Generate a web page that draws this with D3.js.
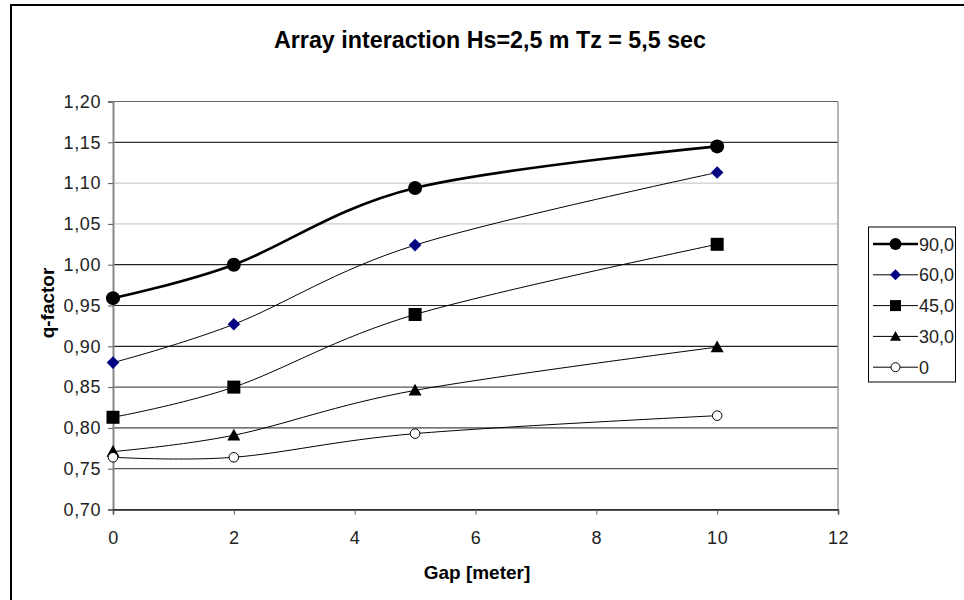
<!DOCTYPE html>
<html><head><meta charset="utf-8">
<script src="https://cdn.jsdelivr.net/npm/d3@7"></script>
<style>body{margin:0;background:#fff}svg{display:block;font-family:"Liberation Sans",Arial,sans-serif}</style>
</head><body><svg id="c" width="964" height="600"></svg>
<script>
const gaps = [0, 2, 5, 10];
const seriesNames = ["90,0", "60,0", "45,0", "30,0", "0"];
const s90 = [0.959, 1.000, 1.094, 1.145];
const s60 = [0.880, 0.927, 1.024, 1.113];
const s45 = [0.813, 0.850, 0.939, 1.025];
const s30 = [0.771, 0.791, 0.846, 0.899];
const s0  = [0.764, 0.764, 0.793, 0.815];
const yTicks = [0.70, 0.75, 0.80, 0.85, 0.90, 0.95, 1.00, 1.05, 1.10, 1.15, 1.20];
const xTicks = [0, 2, 4, 6, 8, 10, 12];
const gridColors = ["#555", "#555", "#444", "#555", "#222", "#222", "#222", "#ccc", "#ccc", "#333", "#666"];

const series = [
  {name: seriesNames[0], vals: s90, marker: "circle", fill: "#000", width: 2.6, size: 7},
  {name: seriesNames[1], vals: s60, marker: "diamond", fill: "#000080", width: 1, size: 6.3},
  {name: seriesNames[2], vals: s45, marker: "square", fill: "#000", width: 1, size: 6.5},
  {name: seriesNames[3], vals: s30, marker: "triangle", fill: "#000", width: 1, size: 6.5},
  {name: seriesNames[4], vals: s0, marker: "ocircle", fill: "#fff", width: 1, size: 4.8}
];

const svg = d3.select("#c");
const L = 113, R = 838, T = 101.5, B = 509.5;
const x = d3.scaleLinear().domain([0, 12]).range([L, R]);
const y = d3.scaleLinear().domain([0.70, 1.20]).range([B, T]);
const fmt = v => d3.format(".2f")(v).replace(".", ",");
const FF = "Liberation Sans, Arial, sans-serif";

// outer frame
svg.append("path").attr("d", "M11,600 L11,5 L964,5").attr("fill", "none").attr("stroke", "#000").attr("stroke-width", 2);

// title
svg.append("text").attr("x", 490).attr("y", 48).attr("text-anchor", "middle")
  .style("font-size", "24px").style("font-weight", "bold").attr("textLength", 432).attr("lengthAdjust", "spacingAndGlyphs")
  .text("Array interaction Hs=2,5 m Tz = 5,5 sec");

// gridlines
svg.append("g").selectAll("line").data(yTicks).join("line")
  .attr("x1", L).attr("x2", R).attr("y1", d => y(d)).attr("y2", d => y(d))
  .attr("stroke", (d, i) => gridColors[i]).attr("stroke-width", 1.2);

// right border of plot
svg.append("line").attr("x1", R).attr("x2", R).attr("y1", T).attr("y2", B).attr("stroke", "#888").attr("stroke-width", 1.2);

// axes
const yAxis = svg.append("g").attr("transform", `translate(${L},0)`)
  .call(d3.axisLeft(y).tickValues(yTicks).tickFormat(fmt).tickSize(5).tickPadding(7));
yAxis.select(".domain").attr("stroke", "#888").attr("stroke-width", 2);
yAxis.selectAll(".tick line").attr("stroke", "#555");
yAxis.selectAll("text").style("font-size", "18px").style("letter-spacing", "0.6px").style("font-family", FF).attr("fill", "#222");

const xAxis = svg.append("g").attr("transform", `translate(0,${B})`)
  .call(d3.axisBottom(x).tickValues(xTicks).tickFormat(d3.format("d")).tickSize(5).tickPadding(17));
xAxis.select(".domain").attr("stroke", "#222").attr("stroke-width", 1.5);
xAxis.selectAll(".tick line").attr("stroke", "#555");
xAxis.selectAll("text").style("font-size", "18px").style("letter-spacing", "0.6px").style("font-family", FF).attr("fill", "#222");

// axis titles
svg.append("text").attr("x", 477).attr("y", 579).attr("text-anchor", "middle")
  .style("font-size", "19px").style("font-weight", "bold").text("Gap [meter]");
svg.append("text").attr("transform", "translate(54,303) rotate(-90)").attr("text-anchor", "middle")
  .style("font-size", "19px").style("font-weight", "bold").text("q-factor");

// lines
const line = d3.line().x((d, i) => x(gaps[i])).y(d => y(d)).curve(d3.curveCatmullRom.alpha(0));
const lg = svg.append("g");
series.forEach(s => {
  lg.append("path").attr("d", line(s.vals)).attr("fill", "none").attr("stroke", "#000").attr("stroke-width", s.width);
});

function marker(g, s, cx, cy) {
  const r = s.size;
  if (s.marker === "circle") g.append("circle").attr("cx", cx).attr("cy", cy).attr("r", r).attr("fill", "#000");
  else if (s.marker === "ocircle") g.append("circle").attr("cx", cx).attr("cy", cy).attr("r", r).attr("fill", "#fff").attr("stroke", "#000").attr("stroke-width", 1);
  else if (s.marker === "diamond") g.append("path").attr("d", `M${cx},${cy-r} L${cx+r},${cy} L${cx},${cy+r} L${cx-r},${cy} Z`).attr("fill", s.fill);
  else if (s.marker === "square") g.append("rect").attr("x", cx-r).attr("y", cy-r).attr("width", 2*r).attr("height", 2*r).attr("fill", "#000");
  else if (s.marker === "triangle") g.append("path").attr("d", `M${cx},${cy-r} L${cx+r},${cy+r*0.8} L${cx-r},${cy+r*0.8} Z`).attr("fill", "#000");
}
series.forEach(s => {
  s.vals.forEach((v, i) => marker(lg, s, x(gaps[i]), y(v)));
});

// legend
const leg = svg.append("g");
leg.append("rect").attr("x", 868.5).attr("y", 227).attr("width", 87).attr("height", 155)
  .attr("fill", "#fff").attr("stroke", "#000").attr("stroke-width", 1);
series.forEach((s, i) => {
  const ly = 244 + i * 30.8;
  leg.append("line").attr("x1", 873).attr("x2", 918).attr("y1", ly).attr("y2", ly).attr("stroke", "#000").attr("stroke-width", s.width);
  marker(leg, Object.assign({}, s, {size: s.marker === "circle" ? 6 : s.marker === "ocircle" ? 4.5 : 5.5}), 895.5, ly);
  leg.append("text").attr("x", 919).attr("y", ly + 6.5).style("font-size", "18px").attr("fill", "#222").text(s.name);
});
</script></body></html>
